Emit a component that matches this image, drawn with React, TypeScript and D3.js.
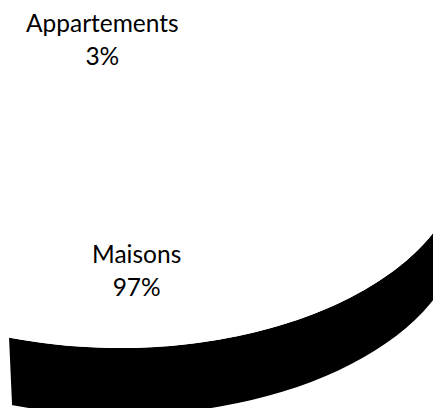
import React from "react";
import * as d3 from "d3";

// ---- data ----
const CATEGORIES = ["Maisons", "Appartements"];
const VALUES = [97, 3];
const WALL_COLORS = ["#000000", "#ffffff"];
const TOP_COLORS = ["#ffffff", "#ffffff"];

// ---- layout ----
const W = 433;
const H = 408;
const CX = 120; // projected pie centre
const CY = 152;
const RX = 344; // projected radii of the tilted disc
const RY = 196;
const DEPTH = 67; // thickness of the 3D disc
const LABEL_KX = 0.53; // label radius, fraction of pie radius
const LABEL_KY = 0.59;
const LABEL_DX = -0.5;
const LABEL_DY = 3.5;
const LINE_H = 33;
const FONT_SIZE = 24.5;
const FONT = "Lato, 'Open Sans', sans-serif";
// plot area left border (slightly slanted by the perspective)
const CLIP_LEFT_TOP = -6;
const CLIP_LEFT_BOTTOM = 12.2;

export default function App() {
  const pie = d3
    .pie<number>()
    .sort(null)
    .startAngle(0)
    .endAngle(2 * Math.PI);
  const arcs = pie(VALUES);
  const total = d3.sum(VALUES);
  const pct = d3.format(".0%");

  const pt = (a: number, dy = 0, kx = 1, ky = 1): [number, number] => [
    CX + RX * kx * Math.sin(a),
    CY - RY * ky * Math.cos(a) + dy,
  ];
  const fmtPt = (p: [number, number]) => `${p[0].toFixed(2)},${p[1].toFixed(2)}`;

  const walls = arcs.map((d, i) => {
    const w0 = Math.max(d.startAngle, Math.PI / 2);
    const w1 = Math.min(d.endAngle, (3 * Math.PI) / 2);
    if (w1 <= w0) return null;
    const large = w1 - w0 > Math.PI ? 1 : 0;
    const path =
      `M${fmtPt(pt(w0))}` +
      `A${RX},${RY} 0 ${large} 1 ${fmtPt(pt(w1))}` +
      `L${fmtPt(pt(w1, DEPTH))}` +
      `A${RX},${RY} 0 ${large} 0 ${fmtPt(pt(w0, DEPTH))}Z`;
    return <path key={`w${i}`} d={path} fill={WALL_COLORS[i]} />;
  });

  const tops = arcs.map((d, i) => {
    const large = d.endAngle - d.startAngle > Math.PI ? 1 : 0;
    const path =
      `M${CX},${CY}L${fmtPt(pt(d.startAngle))}` +
      `A${RX},${RY} 0 ${large} 1 ${fmtPt(pt(d.endAngle))}Z`;
    return <path key={`t${i}`} d={path} fill={TOP_COLORS[i]} />;
  });

  const labels = arcs.map((d, i) => {
    const mid = (d.startAngle + d.endAngle) / 2;
    const [px, y] = pt(mid, LABEL_DY, LABEL_KX, LABEL_KY);
    const x = px + LABEL_DX;
    return (
      <text
        key={`l${i}`}
        x={x}
        textAnchor="middle"
        fontFamily={FONT}
        fontSize={FONT_SIZE}
        fill="#000"
      >
        <tspan x={x} y={y - 8}>
          {CATEGORIES[i]}
        </tspan>
        <tspan x={x} y={y - 8 + LINE_H}>
          {pct(VALUES[i] / total)}
        </tspan>
      </text>
    );
  });

  return (
    <svg
      width={W}
      height={H}
      style={{ position: "absolute", left: 0, top: 0, background: "#fff" }}
    >
      <defs>
        <clipPath id="plotClip">
          <polygon
            points={`${CLIP_LEFT_TOP},0 ${W},0 ${W},${H} ${CLIP_LEFT_BOTTOM},${H}`}
          />
        </clipPath>
      </defs>
      <g clipPath="url(#plotClip)">
        {walls}
        {tops}
      </g>
      {labels}
    </svg>
  );
}
